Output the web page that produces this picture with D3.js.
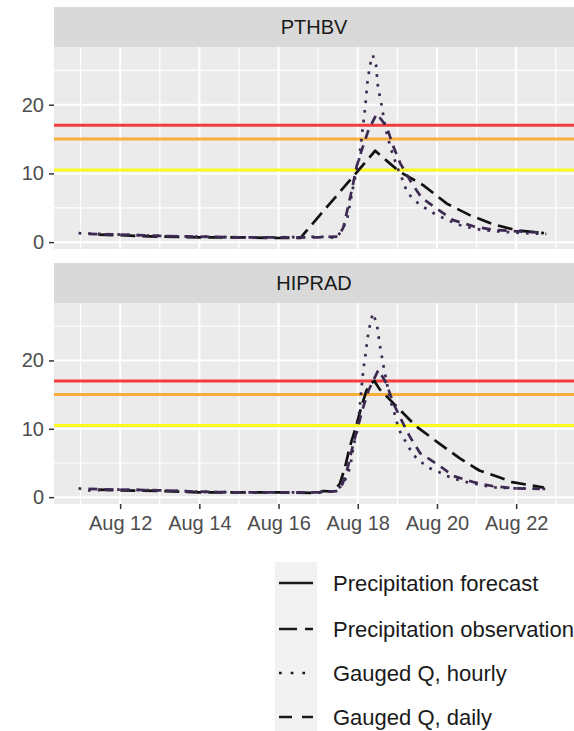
<!DOCTYPE html>
<html><head><meta charset="utf-8">
<script src="https://cdn.jsdelivr.net/npm/d3@7"></script>
<style>body{margin:0;background:#fff}svg{display:block}text{font-family:"Liberation Sans",Arial,Helvetica,sans-serif}</style>
</head><body><svg id="c" width="574" height="731"></svg>
<script>
// ---------- data ----------
const stations = ["PTHBV", "HIPRAD"];
const thresholdValues = [10.5, 15, 17];
const thresholdColors = ["#FAFA1E", "#F8AE3A", "#F53B3B"];
const xTickDays = [12, 14, 16, 18, 20, 22];
const xMinorDays = [11, 13, 15, 17, 19, 21, 23];
const yTicks = [0, 10, 20];
const yMinorTicks = [5, 15, 25];
const seriesNames = ["Precipitation forecast", "Precipitation observation", "Gauged Q, hourly", "Gauged Q, daily"];

// [day of August, discharge]
const pthbvObs = [[11.45,1.1],[12,1.0],[12.5,0.9],[13,0.8],[14,0.7],[15,0.7],[16,0.6],[16.55,0.6],[18.44,13.3],[18.8,11.5],[19.07,10.2],[19.65,8.3],[20.25,5.6],[20.84,3.9],[21.42,2.6],[22.02,1.7],[22.7,1.3]];
const pthbvHourly = [[10.95,1.3],[11.5,1.2],[12,1.1],[12.5,1.0],[13,0.9],[14,0.8],[15,0.7],[16,0.7],[17,0.8],[17.3,0.7],[17.47,0.6],[17.72,3.0],[17.81,5.7],[17.89,8.3],[18.02,11.5],[18.10,15.3],[18.19,19.7],[18.24,23.1],[18.31,25.8],[18.38,27.2],[18.46,25.8],[18.51,22.6],[18.61,19.7],[18.69,16.8],[18.82,13.9],[18.99,11.0],[19.15,8.8],[19.24,7.3],[19.41,6.2],[19.58,5.4],[19.83,4.5],[20.04,3.8],[20.25,3.3],[20.50,2.6],[20.76,2.2],[21.01,1.9],[21.26,1.7],[21.68,1.5],[22.2,1.3],[22.76,1.2]];
const pthbvDaily = [[11.2,1.2],[12,1.1],[13,0.9],[14,0.8],[15,0.7],[16,0.7],[17,0.7],[17.51,0.8],[17.64,2.2],[17.85,7.6],[17.97,11.0],[18.10,13.4],[18.27,16.3],[18.48,18.7],[18.73,16.8],[18.90,13.9],[19.07,11.5],[19.37,8.5],[19.62,6.4],[20.04,4.7],[20.41,3.2],[20.92,2.3],[21.42,1.8],[21.93,1.6],[22.6,1.4]];

const hipradObs = [[11.45,1.1],[12,1.0],[13,0.9],[14,0.7],[15,0.7],[16,0.7],[17,0.6],[17.13,0.9],[17.38,0.8],[17.55,2.0],[17.68,4.4],[17.8,7.4],[17.94,10.0],[18.09,13.2],[18.22,15.6],[18.33,16.6],[18.42,17.0],[18.55,15.8],[18.94,13.5],[19.28,11.5],[19.49,10.3],[20.07,7.8],[20.57,5.7],[21.07,3.9],[21.57,2.9],[21.9,2.2],[22.7,1.4]];
const hipradHourly = [[10.95,1.3],[11.2,1.0],[12,1.1],[13,1.0],[14,0.8],[15,0.7],[16,0.7],[17,0.7],[17.13,0.9],[17.38,0.8],[17.56,1.5],[17.68,2.5],[17.81,4.4],[17.89,7.4],[17.99,9.8],[18.04,12.7],[18.09,15.6],[18.14,18.6],[18.21,21.5],[18.27,24.2],[18.38,26.9],[18.48,25.4],[18.55,22.5],[18.63,19.8],[18.72,17.1],[18.82,14.2],[18.94,12.0],[19.03,10.0],[19.14,8.8],[19.28,7.4],[19.40,6.2],[19.58,5.2],[19.83,4.2],[20.04,3.7],[20.25,3.1],[20.50,2.6],[20.76,2.2],[21.01,1.9],[21.26,1.6],[21.51,1.4],[21.93,1.3],[22.86,1.2]];
const hipradDaily = [[11.2,1.2],[12,1.1],[13,1.0],[14,0.8],[15,0.7],[16,0.7],[17,0.7],[17.5,0.9],[17.62,2.0],[17.75,4.4],[17.87,7.4],[17.99,10.0],[18.14,13.2],[18.27,15.6],[18.52,18.6],[18.72,16.7],[18.9,13.7],[19.1,11.3],[19.32,8.8],[19.58,6.4],[20.04,4.7],[20.41,3.1],[20.92,2.2],[21.42,1.6],[21.93,1.3],[22.6,1.2]];

const panelData = [
  {obs: pthbvObs, hourly: pthbvHourly, daily: pthbvDaily},
  {obs: hipradObs, hourly: hipradHourly, daily: hipradDaily}
];

// ---------- layout ----------
const dayToDate = d => new Date(Date.UTC(2019, 7, 1) + (d - 1) * 86400000);
const left = 54, right = 574;
const panels = [
  {stripTop: 7, top: 47, bottom: 249},
  {stripTop: 263, top: 303, bottom: 504}
];
const x = d3.scaleUtc().domain([dayToDate(10.33), dayToDate(23.46)]).range([left, right]);
const fmt = d3.utcFormat("%b %d");

const svg = d3.select("#c");
svg.append("rect").attr("width", 574).attr("height", 731).attr("fill", "#fff");

const lineStyles = {
  obs: {color: "#111111", dash: "15,7", width: 2.7},
  hourly: {color: "#3d2a52", dash: "2.7,7", width: 2.7},
  daily: {color: "#3d2a52", dash: "9,7", width: 2.7}
};

panels.forEach((p, i) => {
  const y = d3.scaleLinear().domain([-1.0, 28.4]).range([p.bottom, p.top]);
  const g = svg.append("g");
  g.append("rect").attr("x", left).attr("y", p.stripTop).attr("width", right - left).attr("height", p.top - p.stripTop).attr("fill", "#D9D9D9");
  g.append("text").attr("x", (left + right) / 2).attr("y", (p.stripTop + p.top) / 2 + 7).attr("text-anchor", "middle")
    .attr("font-size", 20).attr("fill", "#1A1A1A").text(stations[i]);
  g.append("rect").attr("x", left).attr("y", p.top).attr("width", right - left).attr("height", p.bottom - p.top).attr("fill", "#EBEBEB");
  const clipId = "clip" + i;
  svg.append("clipPath").attr("id", clipId).append("rect").attr("x", left).attr("y", p.top).attr("width", right - left).attr("height", p.bottom - p.top);
  const grid = g.append("g").attr("clip-path", `url(#${clipId})`);
  grid.selectAll(".ymin").data(yMinorTicks).join("line").attr("x1", left).attr("x2", right)
    .attr("y1", d => y(d)).attr("y2", d => y(d)).attr("stroke", "#fff").attr("stroke-width", 1.2);
  grid.selectAll(".xmin").data(xMinorDays).join("line").attr("y1", p.top).attr("y2", p.bottom)
    .attr("x1", d => x(dayToDate(d))).attr("x2", d => x(dayToDate(d))).attr("stroke", "#fff").attr("stroke-width", 1.2);
  grid.selectAll(".ymaj").data(yTicks).join("line").attr("x1", left).attr("x2", right)
    .attr("y1", d => y(d)).attr("y2", d => y(d)).attr("stroke", "#fff").attr("stroke-width", 2);
  grid.selectAll(".xmaj").data(xTickDays).join("line").attr("y1", p.top).attr("y2", p.bottom)
    .attr("x1", d => x(dayToDate(d))).attr("x2", d => x(dayToDate(d))).attr("stroke", "#fff").attr("stroke-width", 2);
  const plot = g.append("g").attr("clip-path", `url(#${clipId})`);
  plot.selectAll(".thr").data(thresholdValues).join("line").attr("x1", left).attr("x2", right)
    .attr("y1", d => y(d)).attr("y2", d => y(d)).attr("stroke", (d, k) => thresholdColors[k]).attr("stroke-width", 3);
  const line = d3.line().x(d => x(dayToDate(d[0]))).y(d => y(d[1]));
  ["obs", "daily", "hourly"].forEach(k => {
    const s = lineStyles[k];
    plot.append("path").attr("d", line(panelData[i][k])).attr("fill", "none")
      .attr("stroke", s.color).attr("stroke-width", s.width).attr("stroke-dasharray", s.dash)
      .attr("stroke-linejoin", "round");
  });
  const yAxis = d3.axisLeft(y).tickValues(yTicks).tickSize(5).tickPadding(5).tickFormat(d3.format("d"));
  const ya = g.append("g").attr("transform", `translate(${left},0)`).call(yAxis);
  ya.select(".domain").remove();
  ya.selectAll(".tick line").attr("stroke", "#333333").attr("stroke-width", 1.5);
  ya.selectAll(".tick text").attr("font-size", 20).attr("fill", "#4D4D4D").attr("font-family", "Liberation Sans, Arial, sans-serif");
  if (i === panels.length - 1) {
    const xAxis = d3.axisBottom(x).tickValues(xTickDays.map(dayToDate)).tickSize(5).tickPadding(7).tickFormat(fmt);
    const xa = g.append("g").attr("transform", `translate(0,${p.bottom})`).call(xAxis);
    xa.select(".domain").remove();
    xa.selectAll(".tick line").attr("stroke", "#333333").attr("stroke-width", 1.5);
    xa.selectAll(".tick text").attr("font-size", 20).attr("fill", "#4D4D4D").attr("font-family", "Liberation Sans, Arial, sans-serif");
  }
});

// ---------- legend ----------
const legendDash = ["none", "18,8", "2.7,9", "13,10"];
const legendRows = [583, 629, 673, 717];
const lg = svg.append("g");
lg.append("rect").attr("x", 275).attr("y", 562).attr("width", 42).attr("height", 731 - 562).attr("fill", "#F2F2F2");
seriesNames.forEach((name, k) => {
  lg.append("line").attr("x1", 279).attr("x2", 313).attr("y1", legendRows[k]).attr("y2", legendRows[k])
    .attr("stroke", "#1a1a1a").attr("stroke-width", 2.7).attr("stroke-dasharray", legendDash[k]);
  lg.append("text").attr("x", 333).attr("y", legendRows[k] + 8).attr("font-size", 22).attr("fill", "#1A1A1A").text(name);
});
</script></body></html>
